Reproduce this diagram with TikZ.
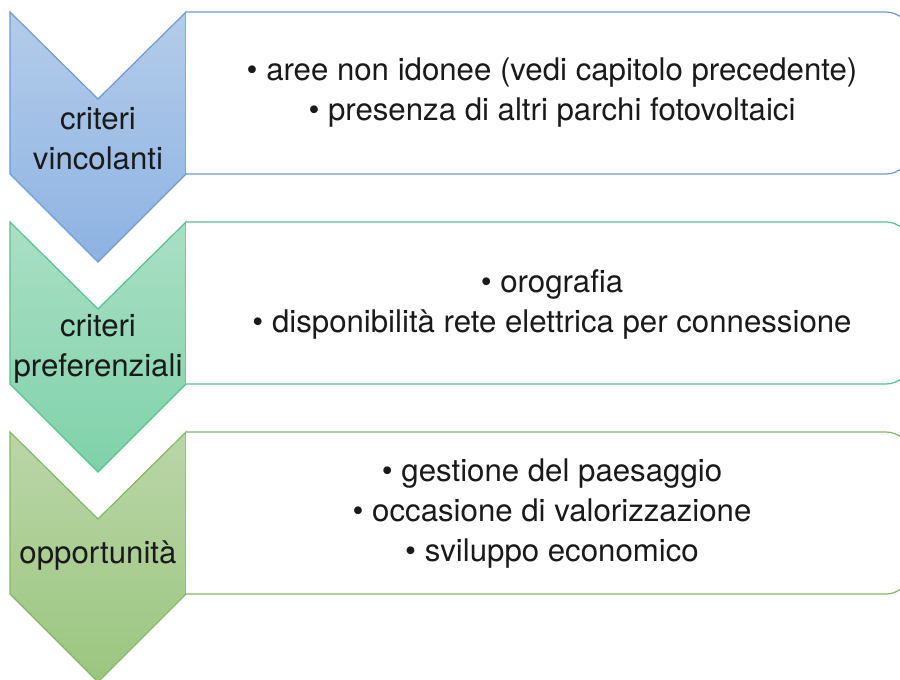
\documentclass[tikz,border=0pt]{standalone}
\usepackage{fontspec}
\setmainfont{TeX Gyre Heros}
\definecolor{bluB}{HTML}{6C9BD6}
\definecolor{bluT}{HTML}{B4CCEA}
\definecolor{bluD}{HTML}{8DB3E2}
\definecolor{grnB}{HTML}{55C38E}
\definecolor{grnT}{HTML}{AADFC5}
\definecolor{grnD}{HTML}{7FD2AA}
\definecolor{olvB}{HTML}{84B864}
\definecolor{olvT}{HTML}{BAD6A8}
\definecolor{olvD}{HTML}{9BC67F}
\definecolor{txt}{HTML}{1A1A1A}
\tikzset{
  lbl/.style={align=center, text=txt, font=\fontsize{23.4}{30}\selectfont, inner sep=0pt},
  boxline/.style={line width=0.9pt, fill=white},
}
\newcommand{\chevron}[4]{%
  \shade[top color=#2, bottom color=#3]
    (10,#1) -- (98,#1+87) -- (186,#1) -- (186,#1+162) -- (98,#1+250) -- (10,#1+162) -- cycle;
  \draw[draw=#4, line width=0.9pt, line join=miter]
    (10,#1) -- (98,#1+87) -- (186,#1) -- (186,#1+162) -- (98,#1+250) -- (10,#1+162) -- cycle;
  \filldraw[boxline, draw=#4]
    (186,#1) -- (886,#1) arc[start angle=-90, end angle=0, radius=24]
    -- (910,#1+138) arc[start angle=0, end angle=90, radius=24] -- (186,#1+162);
}
\begin{document}
\begin{tikzpicture}[x=0.75pt, y=-0.75pt]
\useasboundingbox (0,0) rectangle (900,680);
\clip (0,0) rectangle (900,680);
\chevron{12}{bluT}{bluD}{bluB}
\chevron{222}{grnT}{grnD}{grnB}
\chevron{432}{olvT}{olvD}{olvB}
\node[lbl] (c1) at (98,139) {criteri\\vincolanti};
\node[lbl] (c2) at (98,349) {criteri\\preferenziali};
\node[lbl] (c3) at (98,556) {opportunità};
\node[lbl] (t1) at (552,93) {• aree non idonee (vedi capitolo precedente)\\• presenza di altri parchi fotovoltaici};
\node[lbl] (t2) at (552,304) {• orografia\\• disponibilità rete elettrica per connessione};
\node[lbl] (t3) at (552,514) {• gestione del paesaggio\\• occasione di valorizzazione\\• sviluppo economico};
\end{tikzpicture}
\end{document}
